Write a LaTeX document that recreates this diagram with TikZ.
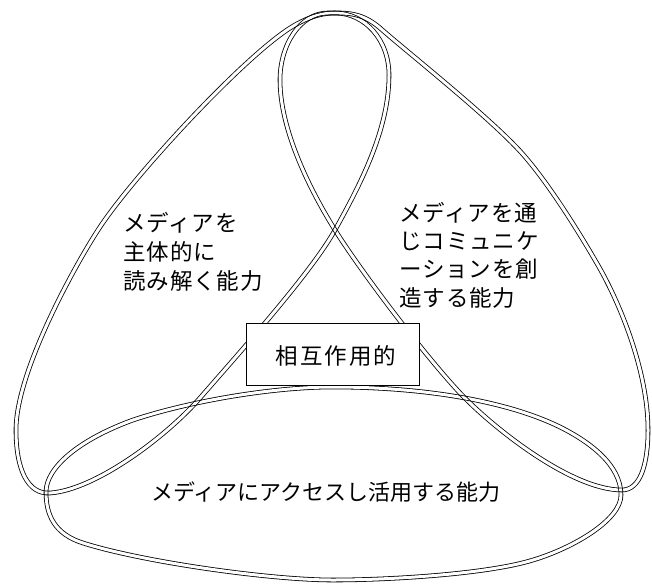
\documentclass[tikz,border=0pt]{standalone}
\usepackage{fontspec}
\newfontfamily\jpA[LetterSpace=4]{Noto Sans CJK JP}
\newfontfamily\jpB{Noto Sans CJK JP}
\newfontfamily\jpC[LetterSpace=9]{Noto Sans CJK JP}
\begin{document}
\begin{tikzpicture}[x=1pt,y=-1pt,
  loopline/.style={draw=black, line width=0.8pt, double=white, double distance=3pt},
  sidelbl/.style={inner sep=0pt, anchor=base west, font=\jpA\fontsize{22.5}{28}\selectfont},
  midlbl/.style={inner sep=0pt, anchor=base, font=\jpC\fontsize{22.5}{28}\selectfont},
  botlbl/.style={inner sep=0pt, anchor=base, font=\jpB\fontsize{22}{28}\selectfont},
  boxstyle/.style={draw=black, line width=1pt, fill=white},
]
\useasboundingbox (0,0) rectangle (652,583);
% left loop
\begin{scope}[blend mode=multiply]
\begin{scope}[transparency group]
\draw[loopline] (389,75) .. controls (389,130) and (360,185) .. (335,230)
 .. controls (311,273) and (240,352) .. (200,398)
 .. controls (166,437) and (95,490) .. (50,493)
 .. controls (28,494.5) and (16,470) .. (16,430)
 .. controls (16,370) and (78,260) .. (100,227)
 .. controls (133,177) and (237,64) .. (287,30)
 .. controls (302,20) and (318,13) .. (335,13)
 .. controls (365,13) and (389,40) .. cycle;
\end{scope}
\end{scope}
% right loop
\begin{scope}[blend mode=multiply]
\begin{scope}[transparency group]
\draw[loopline] (328,13) .. controls (300,13) and (280,45) .. (280,80)
 .. controls (280,130) and (310,190) .. (335,230)
 .. controls (358,267) and (420,350) .. (460,393)
 .. controls (490,425) and (570,490) .. (622,490)
 .. controls (640,490) and (648,465) .. (648,430)
 .. controls (648,370) and (619,302) .. (599,267)
 .. controls (579,232) and (546,179) .. (519,150)
 .. controls (485,113.5) and (406,51) .. (380,28)
 .. controls (361,11.5) and (345,13) .. cycle;
\end{scope}
\end{scope}
% bottom loop
\begin{scope}[blend mode=multiply]
\begin{scope}[transparency group]
\draw[loopline] (46,492) .. controls (46,468) and (78,440) .. (133,420)
 .. controls (190,401) and (273,387) .. (333,387)
 .. controls (420,387) and (505,400) .. (560,427)
 .. controls (590,442) and (621,465) .. (621,495)
 .. controls (621,520) and (573,548) .. (533,560)
 .. controls (488,574) and (390,580) .. (333,580)
 .. controls (270,580) and (143,562) .. (83,543)
 .. controls (54.5,534) and (46,515) .. cycle;
\end{scope}
\end{scope}
% centre box
\node[boxstyle, minimum width=173pt, minimum height=62pt, inner sep=0pt] (box) at (332.5,354) {};
\node[midlbl] (mid) at (336,364) {相互作用的};
% left text
\node[sidelbl] (l1) at (123,231) {メディアを};
\node[sidelbl] (l2) at (123,260) {主体的に};
\node[sidelbl] (l3) at (123,289) {読み解く能力};
% right text
\node[sidelbl] (r1) at (399,221) {メディアを通};
\node[sidelbl] (r2) at (399,249) {じコミュニケ};
\node[sidelbl] (r3) at (399,277) {ーションを創};
\node[sidelbl] (r4) at (399,306) {造する能力};
% bottom text
\node[botlbl] (b1) at (326,500) {メディアにアクセスし活用する能力};
\end{tikzpicture}
\end{document}
